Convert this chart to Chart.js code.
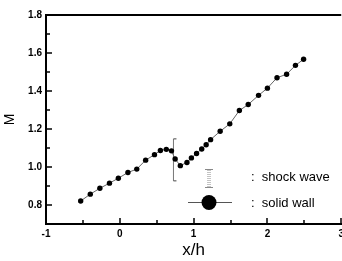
<!DOCTYPE html>
<html>
<head>
<meta charset="utf-8">
<script src="https://cdn.jsdelivr.net/npm/chart.js@4"></script>
<style>
  body { margin: 0; background: #fff; overflow: hidden; }
  #wrap { width: 348px; height: 261px; }
</style>
</head>
<body>
<div id="wrap"><canvas id="chartMach" width="348" height="261"></canvas></div>
<script>
// Mach number along x/h
const xVals = [-0.53, -0.40, -0.27, -0.14, -0.02, 0.11, 0.23, 0.35, 0.47, 0.55,
               0.63, 0.70, 0.75, 0.82, 0.91, 0.97, 1.04, 1.11, 1.17, 1.23,
               1.36, 1.49, 1.62, 1.74, 1.88, 2.00, 2.13, 2.26, 2.38, 2.49];
const machVals = [0.821, 0.857, 0.888, 0.915, 0.941, 0.971, 0.989, 1.036, 1.065, 1.087,
                  1.093, 1.085, 1.042, 1.007, 1.024, 1.048, 1.071, 1.095, 1.117, 1.144,
                  1.188, 1.227, 1.297, 1.329, 1.377, 1.415, 1.470, 1.488, 1.535, 1.567];
// shock wave position (error-bar style marker)
const shockX = [0.727, 0.727];
const shockY = [0.927, 1.148];

const xTicks = [-1, 0, 1, 2, 3];
const yTicks = [0.8, 1.0, 1.2, 1.4, 1.6, 1.8];
const yTickLabels = ['0.8', '1.0', '1.2', '1.4', '1.6', '1.8'];

const labelFont = { family: 'Liberation Sans', size: 10, weight: 'bold' };

// inward ticks, top frame line and the legend
const framePlugin = {
    id: 'frame',
    afterDraw(chart) {
        const ctx = chart.ctx;
        const a = chart.chartArea;
        const xs = chart.scales.x, ys = chart.scales.y;
        ctx.save();
        ctx.strokeStyle = '#000';
        ctx.lineWidth = 2;
        ctx.beginPath();
        ctx.moveTo(a.left, a.top);
        ctx.lineTo(a.right, a.top);
        ctx.stroke();
        ctx.lineWidth = 1.5;
        for (let v = 0.7; v <= 1.8001; v += 0.1) {
            const p = Math.round(ys.getPixelForValue(v));
            const major = Math.abs(Math.round(v * 5) - v * 5) < 0.01;
            ctx.beginPath();
            ctx.moveTo(a.left, p);
            ctx.lineTo(a.left + (major ? 6 : 4), p);
            ctx.stroke();
        }
        for (let v = -1; v <= 3.001; v += 0.5) {
            const p = Math.round(xs.getPixelForValue(v));
            const major = Math.abs(v - Math.round(v)) < 0.01;
            ctx.beginPath();
            ctx.moveTo(p, a.bottom);
            ctx.lineTo(p, a.bottom - (major ? 6 : 4));
            ctx.stroke();
        }
        // legend
        const lx = 209;
        ctx.strokeStyle = '#888';
        ctx.lineWidth = 1;
        ctx.setLineDash([1, 1]);
        ctx.beginPath();
        ctx.moveTo(lx - 1, 170); ctx.lineTo(lx - 1, 187);
        ctx.moveTo(lx + 1, 170); ctx.lineTo(lx + 1, 187);
        ctx.stroke();
        ctx.setLineDash([]);
        ctx.beginPath();
        ctx.moveTo(lx - 4, 169.5); ctx.lineTo(lx + 4, 169.5);
        ctx.moveTo(lx - 4, 187.5); ctx.lineTo(lx + 4, 187.5);
        ctx.stroke();
        ctx.strokeStyle = '#555';
        ctx.beginPath();
        ctx.moveTo(188, 202.5); ctx.lineTo(232, 202.5);
        ctx.stroke();
        ctx.fillStyle = '#000';
        ctx.beginPath();
        ctx.arc(lx, 202.5, 7.5, 0, Math.PI * 2);
        ctx.fill();
        ctx.font = '13px "Liberation Sans"';
        ctx.textBaseline = 'middle';
        ctx.fillText(':  shock wave', 251, 177);
        ctx.fillText(':  solid wall', 251, 203);
        ctx.restore();
    }
};

new Chart(document.getElementById('chartMach'), {
    type: 'scatter',
    data: {
        datasets: [{
            label: 'solid wall',
            data: xVals.map((x, i) => ({ x: x, y: machVals[i] })),
            showLine: true,
            borderColor: '#666',
            borderWidth: 1,
            backgroundColor: '#000',
            pointBackgroundColor: '#000',
            pointBorderWidth: 0,
            pointRadius: 2.7
        }, {
            label: 'shock wave',
            data: shockX.map((x, i) => ({ x: x, y: shockY[i] })),
            showLine: true,
            borderColor: '#777',
            borderWidth: 1,
            pointStyle: 'dash',
            pointRadius: 3,
            pointBorderColor: '#444',
            pointBorderWidth: 1
        }]
    },
    options: {
        responsive: false,
        animation: false,
        layout: { padding: { top: 15, right: 5, left: 0, bottom: 0 } },
        plugins: {
            legend: { display: false },
            tooltip: { enabled: false }
        },
        scales: {
            x: {
                type: 'linear',
                min: -1,
                max: 3,
                afterBuildTicks: s => { s.ticks = xTicks.map(v => ({ value: v })); },
                afterFit: s => { s.height = 37; },
                grid: { display: false, drawTicks: false },
                border: { display: true, color: '#000', width: 2 },
                ticks: { color: '#000', font: labelFont, padding: 4 },
                title: {
                    display: true,
                    text: 'x/h',
                    color: '#000',
                    font: { family: 'Liberation Sans', size: 17 },
                    padding: { top: 0, bottom: 0 }
                }
            },
            y: {
                type: 'linear',
                min: 0.7,
                max: 1.8,
                afterBuildTicks: s => { s.ticks = yTicks.map(v => ({ value: v })); },
                afterFit: s => { s.width = 46; },
                grid: { display: false, drawTicks: false },
                border: { display: true, color: '#000', width: 2 },
                ticks: {
                    color: '#000',
                    font: labelFont,
                    padding: 4,
                    callback: (v, i) => yTickLabels[i]
                },
                title: {
                    display: true,
                    text: 'M',
                    color: '#000',
                    font: { family: 'Liberation Sans', size: 14 },
                    padding: { top: 2, bottom: 0 }
                }
            }
        }
    },
    plugins: [framePlugin]
});
</script>
</body>
</html>
